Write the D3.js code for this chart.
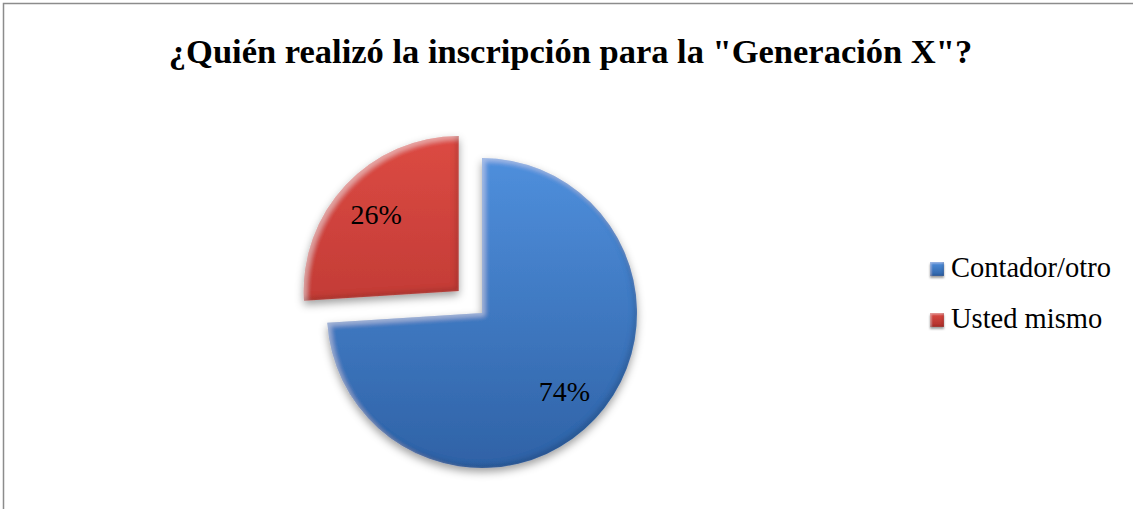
<!DOCTYPE html>
<html>
<head>
<meta charset="utf-8">
<script src="https://cdn.jsdelivr.net/npm/d3@7"></script>
<style>
  html, body { margin: 0; padding: 0; background: #fff; }
  svg { display: block; }
</style>
</head>
<body>
<svg id="chart" width="1133" height="509"></svg>
<script>
const titleText = '¿Quién realizó la inscripción para la "Generación X"?';
const categories = ["Contador/otro", "Usted mismo"];
const values = [74, 26];
const labels = ["74%", "26%"];
const colorsTop = ["#4f8fdc", "#dc4a43"];
const colorsBottom = ["#2f62a6", "#ad302b"];

const W = 1133, H = 509;
const FONT = "'Liberation Serif', 'Times New Roman', serif";
const svg = d3.select("#chart");
const defs = svg.append("defs");

// frame
svg.append("rect").attr("x", 3.5).attr("y", 3.5).attr("width", W + 10).attr("height", H + 10)
  .attr("fill", "#fff").attr("stroke", "#8c8c8c").attr("stroke-width", 1.5);

// title
svg.append("text").attr("x", 570.5).attr("y", 63).attr("text-anchor", "middle")
  .attr("font-family", FONT)
  .attr("font-weight", "bold").attr("font-size", 34.5).attr("fill", "#000")
  .text(titleText);

const cx = 482, cy = 313, R = 155, explode = 32;

// gradients
categories.forEach((c, i) => {
  const g = defs.append("linearGradient").attr("id", "grad" + i)
    .attr("gradientUnits", "userSpaceOnUse")
    .attr("x1", 0).attr("y1", -R).attr("x2", 0).attr("y2", R);
  g.append("stop").attr("offset", "0%").attr("stop-color", colorsTop[i]);
  g.append("stop").attr("offset", "100%").attr("stop-color", colorsBottom[i]);
  const lg = defs.append("linearGradient").attr("id", "lgrad" + i)
    .attr("x1", 0).attr("y1", 0).attr("x2", 0).attr("y2", 1);
  lg.append("stop").attr("offset", "0%").attr("stop-color", colorsTop[i]);
  lg.append("stop").attr("offset", "100%").attr("stop-color", colorsBottom[i]);
});

// bevel + shadow filter
function makeBevel(id, blur, off, shOff, shBlur) {
  const f = defs.append("filter").attr("id", id)
    .attr("x", "-20%").attr("y", "-20%").attr("width", "140%").attr("height", "150%");
  f.append("feGaussianBlur").attr("in", "SourceAlpha").attr("stdDeviation", shBlur).attr("result", "sb");
  f.append("feOffset").attr("in", "sb").attr("dx", 0).attr("dy", shOff).attr("result", "sbo");
  f.append("feFlood").attr("flood-color", "#000").attr("flood-opacity", 0.38).attr("result", "sf");
  f.append("feComposite").attr("in", "sf").attr("in2", "sbo").attr("operator", "in").attr("result", "shadow");
  f.append("feGaussianBlur").attr("in", "SourceAlpha").attr("stdDeviation", blur).attr("result", "b");
  f.append("feOffset").attr("in", "b").attr("dx", off).attr("dy", off).attr("result", "bo1");
  f.append("feComposite").attr("in", "SourceAlpha").attr("in2", "bo1").attr("operator", "out").attr("result", "hl");
  f.append("feFlood").attr("flood-color", "#ffffff").attr("flood-opacity", 0.35).attr("result", "hf");
  f.append("feComposite").attr("in", "hf").attr("in2", "hl").attr("operator", "in").attr("result", "hlc");
  f.append("feOffset").attr("in", "b").attr("dx", -off).attr("dy", -off).attr("result", "bo2");
  f.append("feComposite").attr("in", "SourceAlpha").attr("in2", "bo2").attr("operator", "out").attr("result", "sh");
  f.append("feFlood").attr("flood-color", "#000").attr("flood-opacity", 0.28).attr("result", "df");
  f.append("feComposite").attr("in", "df").attr("in2", "sh").attr("operator", "in").attr("result", "shc");
  const m = f.append("feMerge");
  m.append("feMergeNode").attr("in", "shadow");
  m.append("feMergeNode").attr("in", "SourceGraphic");
  m.append("feMergeNode").attr("in", "hlc");
  m.append("feMergeNode").attr("in", "shc");
}
makeBevel("bevel", 2.5, 3, 4, 4);
makeBevel("bevelSmall", 1, 1.2, 1.5, 1);

const pie = d3.pie().sort(null).value(d => d)(values);
const arc = d3.arc().innerRadius(0).outerRadius(R);
const labelArc = d3.arc().innerRadius(R * 0.73).outerRadius(R * 0.73);

const g = svg.append("g").attr("transform", `translate(${cx},${cy})`);
const slices = g.selectAll("g.slice").data(pie).join("g").attr("class", "slice")
  .attr("transform", (d, i) => {
    if (i === 0) return null;
    const a = (d.startAngle + d.endAngle) / 2;
    return `translate(${explode * Math.sin(a)},${-explode * Math.cos(a)})`;
  });

slices.append("path").attr("d", arc)
  .attr("fill", (d, i) => `url(#grad${i})`)
  .attr("filter", "url(#bevel)");

slices.append("text")
  .attr("transform", d => `translate(${labelArc.centroid(d)})`)
  .attr("text-anchor", "middle").attr("dy", "0.36em")
  .attr("font-family", FONT)
  .attr("font-size", 28).attr("fill", "#000")
  .text((d, i) => labels[i]);

// legend
const legend = svg.append("g");
const items = legend.selectAll("g").data(categories).join("g")
  .attr("transform", (d, i) => `translate(930,${262 + i * 51})`);
items.append("rect").attr("width", 14).attr("height", 14)
  .attr("fill", (d, i) => `url(#lgrad${i})`).attr("filter", "url(#bevelSmall)");
items.append("text").attr("x", 21).attr("y", 15)
  .attr("font-family", FONT)
  .attr("font-size", 28.5).attr("fill", "#000")
  .text(d => d);
</script>
</body>
</html>
